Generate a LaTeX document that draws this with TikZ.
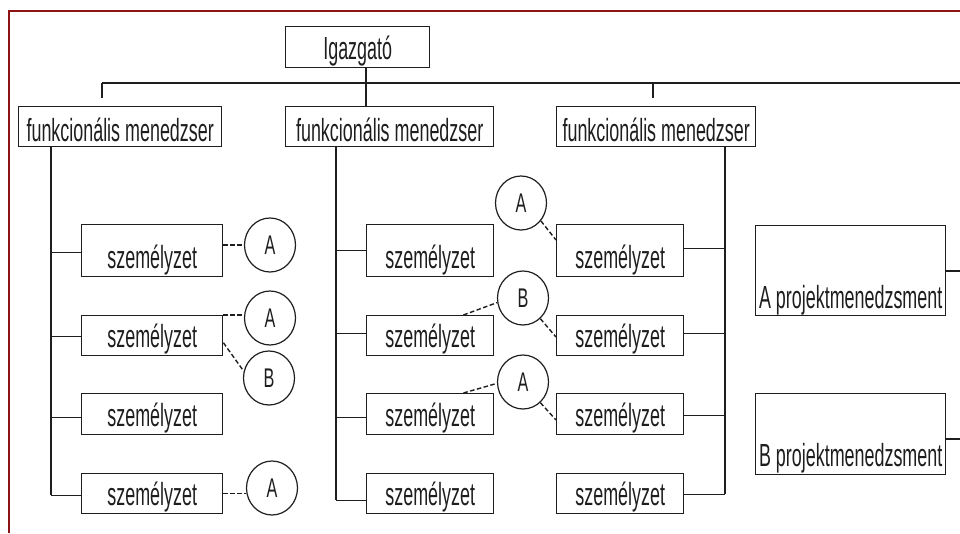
\documentclass[tikz,border=0pt]{standalone}
\usepackage{fontspec}
\newfontfamily\narrowsans{Liberation Sans}[FakeStretch=0.56]
\newfontfamily\tagsans{Liberation Sans}[FakeStretch=0.6]
\usetikzlibrary{shapes.geometric}
\definecolor{framered}{RGB}{140,20,20}
\definecolor{ink}{RGB}{30,30,30}
\begin{document}
\begin{tikzpicture}[x=1pt,y=-1pt,
  every node/.style={font=\narrowsans\fontsize{32}{33}\selectfont, text=ink},
  orgbox/.style={draw=ink, line width=1.4pt, rectangle, inner sep=0pt, anchor=north west},
  staffbox/.style={orgbox, text depth=8pt},
  ring/.style={draw=ink, line width=1.2pt, ellipse, inner sep=0pt,
    minimum width=51pt, minimum height=54pt,
    font=\tagsans\fontsize{27}{28}\selectfont},
  tree/.style={draw=ink, line width=1.3pt},
  link/.style={draw=ink, line width=1.4pt, dash pattern=on 4.5pt off 2.5pt}
]
\useasboundingbox (0,0) rectangle (960,533);

% frame
\draw[framered, line width=2pt] (9,533) -- (9,10.5) -- (960,10.5);

% director and functional managers
\node[orgbox, minimum width=144pt, text height=32.5pt, text depth=8.5pt] (ig) at (285,26) {Igazgató};
\node[orgbox, minimum width=203pt, text height=35pt, text depth=5pt] (fm1) at (18,106) {funkcionális menedzser};
\node[orgbox, minimum width=208pt, text height=35pt, text depth=5pt] (fm2) at (285,106) {funkcionális menedzser};
\node[orgbox, minimum width=199pt, text height=35pt, text depth=5pt] (fm3) at (556,106) {funkcionális menedzser};

% staff, column 1
\node[staffbox, minimum width=141pt, text height=44pt] (a1) at (81,224) {személyzet};
\node[staffbox, minimum width=141pt, text height=32pt] (a2) at (81,315) {személyzet};
\node[staffbox, minimum width=141pt, text height=33pt] (a3) at (81,393) {személyzet};
\node[staffbox, minimum width=141pt, text height=32pt] (a4) at (81,473) {személyzet};
% staff, column 2
\node[staffbox, minimum width=127pt, text height=44pt] (b1) at (366,224) {személyzet};
\node[staffbox, minimum width=127pt, text height=32pt] (b2) at (366,315) {személyzet};
\node[staffbox, minimum width=127pt, text height=33pt] (b3) at (366,393) {személyzet};
\node[staffbox, minimum width=127pt, text height=32pt] (b4) at (366,473) {személyzet};
% staff, column 3
\node[staffbox, minimum width=127pt, text height=44pt] (c1) at (556,224) {személyzet};
\node[staffbox, minimum width=127pt, text height=32pt] (c2) at (556,315) {személyzet};
\node[staffbox, minimum width=127pt, text height=33pt] (c3) at (556,393) {személyzet};
\node[staffbox, minimum width=127pt, text height=32pt] (c4) at (556,473) {személyzet};

% project management
\node[orgbox, minimum width=190pt, text height=83pt, text depth=7pt] (pA) at (755,225) {A projektmenedzsment};
\node[orgbox, minimum width=190pt, text height=73pt, text depth=8pt] (pB) at (755,393) {B projektmenedzsment};

% project tags
\node[ring] (ra1) at (270,245) {A};
\node[ring] (ra2) at (270,318) {A};
\node[ring] (rb2) at (269,378) {B};
\node[ring] (ra4) at (272,488) {A};
\node[ring] (ma1) at (521,203) {A};
\node[ring] (mb) at (523,298) {B};
\node[ring] (ma3) at (523,382) {A};

% hierarchy lines
\coordinate (busL) at (102,83);
\coordinate (busR) at (960,83);
\coordinate (stub1) at (102,98);
\coordinate (stub3) at (653,98);
\coordinate (topm) at (653,83);
\coordinate (igdrop) at (366,67);
\coordinate (fm2top) at (366,106);
\path[tree] (busL) -- (busR);
\path[tree] (busL) -- (stub1);
\path[tree] (topm) -- (stub3);
\path[tree] (igdrop) -- (fm2top);

\coordinate (s1top) at (51,146);
\coordinate (s1bot) at (51,495);
\coordinate (s2top) at (336,146);
\coordinate (s2bot) at (336,500);
\coordinate (s3top) at (725,146);
\coordinate (s3bot) at (725,494);
\path[tree] (s1top) -- (s1bot);
\path[tree] (s2top) -- (s2bot);
\path[tree] (s3top) -- (s3bot);

\foreach \n/\dy in {a1/2, a2/1, a3/3.5, a4/2} {
  \path[tree] ([yshift=-\dy pt]\n.west) -- ([yshift=-\dy pt]\n.west -| s1top);
}
\foreach \n/\dy in {b1/0, b2/-2, b3/3.5, b4/7} {
  \path[tree] ([yshift=-\dy pt]\n.west) -- ([yshift=-\dy pt]\n.west -| s2top);
}
\foreach \n/\dy in {c1/-2, c2/-2, c3/1.5, c4/1} {
  \path[tree] ([yshift=-\dy pt]\n.east) -- ([yshift=-\dy pt]\n.east -| s3top);
}

\coordinate (pAend) at (960,271);
\coordinate (pBend) at (960,439);
\path[tree] (pA.east |- pAend) -- (pAend);
\path[tree] (pB.east |- pBend) -- (pBend);

% dashed assignment links
\path[link] (ra1.west -| a1.east) -- (ra1.west);
\path[link] ([yshift=3pt]ra2.west -| a2.east) -- ([yshift=3pt]ra2.west);
\path[link] ([yshift=-7pt]a2.east) -- (rb2.165);
\path[link] (a4.east) -- (a4.east -| ra4.west);
\path[link] (ma1.-42) -- ([yshift=-16pt]c1.north west);
\path[link] ([xshift=-31pt]b2.north east) -- (mb.190);
\path[link] (mb.-50) -- ([yshift=-22pt]c2.north west);
\path[link] ([xshift=-31pt]b3.north east) -- (ma3.183);
\path[link] (ma3.-50) -- ([yshift=-27pt]c3.north west);
\end{tikzpicture}
\end{document}
